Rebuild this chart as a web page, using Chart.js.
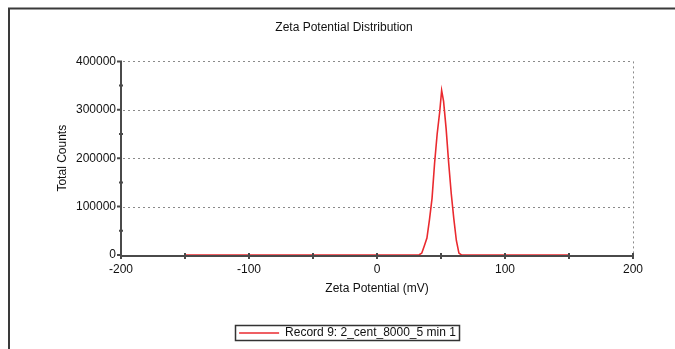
<!DOCTYPE html>
<html>
<head>
<meta charset="utf-8">
<script src="https://cdn.jsdelivr.net/npm/chart.js@4/dist/chart.umd.min.js"></script>
<style>
  html, body { margin: 0; padding: 0; background: #fff; }
  #wrap { width: 675px; height: 349px; position: relative; }
  canvas { display: block; }
</style>
</head>
<body>
<div id="wrap"><canvas id="c" width="675" height="349"></canvas></div>
<script>
// ---- data ----
const chartTitle = "Zeta Potential Distribution";
const xAxisTitle = "Zeta Potential (mV)";
const yAxisTitle = "Total Counts";
const seriesLabel = "Record 9: 2_cent_8000_5 min 1";
const zetaMv = [-150, 30, 33, 35, 37, 39, 41, 43, 45, 47, 49, 50.5, 52, 54, 56, 58, 60, 62, 64, 66, 150];
const totalCounts = [0, 0, 500, 4000, 19000, 35000, 73000, 117000, 190000, 250000, 296000, 340000, 318000, 261000, 190000, 127000, 75000, 30000, 4000, 0, 0];
const xTicks = [-200, -100, 0, 100, 200];
const xMinorTicks = [-200, -150, -100, -50, 0, 50, 100, 150, 200];
const yTicks = [0, 100000, 200000, 300000, 400000];
const yMinorTicks = [50000, 150000, 250000, 350000];

const FONT = "'Liberation Sans', Arial, sans-serif";
const FS = 12;
const points = zetaMv.map((x, i) => ({ x: x, y: totalCounts[i] }));

const decor = {
  id: 'decor',
  afterLayout(chart) {
    // the reference centres title and legend on the whole frame, not on the plot
    const tb = chart.titleBlock;
    if (tb) { tb.right = 678; tb.width = tb.right - tb.left; }
    const lg = chart.legend;
    if (lg) { lg.right = 685; lg.width = lg.right - lg.left; }
  },
  beforeDatasetsDraw(chart) {
    const ctx = chart.ctx;
    const xs = chart.scales.x, ys = chart.scales.y;
    const l = xs.getPixelForValue(-200), r = xs.getPixelForValue(200);
    const t = ys.getPixelForValue(400000), b = ys.getPixelForValue(0);
    ctx.save();
    ctx.strokeStyle = '#3a3a3a';
    ctx.lineWidth = 2;
    ctx.beginPath();
    ctx.moveTo(9, 349); ctx.lineTo(9, 8.5); ctx.lineTo(675, 8.5);
    ctx.stroke();
    ctx.strokeStyle = '#8a8a8a';
    ctx.lineWidth = 1;
    ctx.setLineDash([2, 3]);
    ctx.beginPath();
    yTicks.forEach(v => {
      if (v === 0) return;
      const y = Math.round(ys.getPixelForValue(v)) + 0.5;
      ctx.moveTo(l + 2, y); ctx.lineTo(r, y);
    });
    const rx = Math.round(r) + 0.5;
    ctx.moveTo(rx, t); ctx.lineTo(rx, b);
    ctx.stroke();
    ctx.restore();
  },
  afterDatasetsDraw(chart) {
    const ctx = chart.ctx;
    const xs = chart.scales.x, ys = chart.scales.y;
    const l = xs.getPixelForValue(-200), r = xs.getPixelForValue(200);
    const t = ys.getPixelForValue(400000), b = ys.getPixelForValue(0);
    ctx.save();
    ctx.strokeStyle = '#4a4a4a';
    ctx.lineWidth = 2;
    ctx.beginPath();
    ctx.moveTo(l, t); ctx.lineTo(l, b + 1); ctx.lineTo(r, b + 1);
    yTicks.forEach(v => { const y = ys.getPixelForValue(v); ctx.moveTo(l - 4, y); ctx.lineTo(l + 1, y); });
    yMinorTicks.forEach(v => { const y = ys.getPixelForValue(v); ctx.moveTo(l - 2, y); ctx.lineTo(l + 2, y); });
    ctx.stroke();
    ctx.beginPath();
    xMinorTicks.forEach(v => { const x = xs.getPixelForValue(v); ctx.moveTo(x, b - 2); ctx.lineTo(x, b + 4); });
    ctx.stroke();
    ctx.restore();
  },
  afterDraw(chart) {
    const lg = chart.legend;
    if (!lg || !lg.legendHitBoxes || !lg.legendHitBoxes.length) return;
    const hb = lg.legendHitBoxes[0];
    const ctx = chart.ctx;
    ctx.save();
    ctx.strokeStyle = '#333';
    ctx.lineWidth = 1.5;
    ctx.strokeRect(Math.round(hb.left) - 3.5, Math.round(hb.top) - 1.5, Math.round(hb.width) + 7, Math.round(hb.height) + 3);
    ctx.restore();
  }
};

new Chart(document.getElementById('c'), {
  type: 'line',
  data: {
    datasets: [{
      label: seriesLabel,
      data: points,
      borderColor: '#ea2a2f',
      backgroundColor: '#ea2a2f',
      borderWidth: 1.6,
      pointRadius: 0,
      tension: 0,
      fill: false
    }]
  },
  options: {
    responsive: false,
    animation: false,
    devicePixelRatio: 1,
    layout: { padding: { left: 10, right: 42, top: 8, bottom: 0 } },
    plugins: {
      title: {
        display: true,
        text: chartTitle,
        color: '#111',
        font: { family: FONT, size: FS, weight: 'normal' },
        padding: { top: 12, bottom: 27 }
      },
      legend: {
        display: true,
        position: 'bottom',
        labels: {
          color: '#111',
          font: { family: FONT, size: FS },
          usePointStyle: true,
          pointStyle: 'line',
          pointStyleWidth: 40,
          padding: 0
        }
      },
      tooltip: { enabled: false }
    },
    scales: {
      x: {
        type: 'linear',
        min: -200, max: 200,
        afterBuildTicks: s => { s.ticks = xTicks.map(v => ({ value: v })); },
        afterFit: s => { s.height = 72; },
        grid: { display: false, drawTicks: false },
        border: { display: false },
        ticks: { color: '#111', font: { family: FONT, size: FS }, padding: 7, maxRotation: 0, autoSkip: false,
                 callback: v => String(v) },
        title: { display: true, text: xAxisTitle, color: '#111', font: { family: FONT, size: FS }, padding: { top: 4, bottom: 31 } }
      },
      y: {
        type: 'linear',
        min: 0, max: 400000,
        afterBuildTicks: s => { s.ticks = yTicks.map(v => ({ value: v })); },
        afterFit: s => { s.width = 111; },
        grid: { display: false, drawTicks: false },
        border: { display: false },
        ticks: { color: '#111', font: { family: FONT, size: FS }, padding: 5, callback: v => String(v) },
        title: { display: true, text: yAxisTitle, color: '#111', font: { family: FONT, size: FS }, padding: { top: 45, bottom: 0 } }
      }
    }
  },
  plugins: [decor]
});
</script>
</body>
</html>
